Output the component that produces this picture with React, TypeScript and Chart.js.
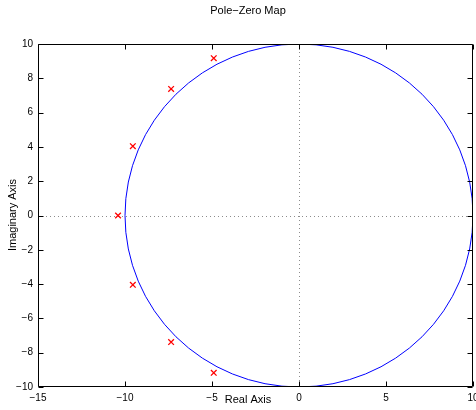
import React, { useEffect, useRef } from "react";
import { Chart, registerables } from "chart.js";

Chart.register(...registerables);

// Data
const poleRe = [-4.9, -7.35, -9.55, -10.4, -9.55, -7.35, -4.9];
const poleIm = [9.17, 7.38, 4.04, 0, -4.04, -7.38, -9.17];
const xTicks = [-15, -10, -5, 0, 5, 10];
const yTicks = [-10, -8, -6, -4, -2, 0, 2, 4, 6, 8, 10];
const circleRadius = 10;
const titleText = "Pole\u2212Zero Map";
const xTitle = "Real Axis";
const yTitle = "Imaginary Axis";

const FONT = '"Liberation Sans", Arial, Helvetica, sans-serif';
const fmt = (v: number) => String(v).replace("-", "\u2212");

const decor = {
  id: "decor",
  beforeDatasetsDraw(chart: any) {
    const { ctx, chartArea: a, scales } = chart;
    const x = scales.x, y = scales.y;
    ctx.save();
    ctx.beginPath();
    ctx.rect(a.left, a.top, a.right - a.left, a.bottom - a.top);
    ctx.clip();
    ctx.strokeStyle = "#8c8c8c";
    ctx.lineWidth = 1;
    ctx.setLineDash([1, 3]);
    const x0 = Math.round(x.getPixelForValue(0)) + 0.5;
    const y0 = Math.round(y.getPixelForValue(0)) + 0.5;
    ctx.beginPath();
    ctx.moveTo(x0, a.top);
    ctx.lineTo(x0, a.bottom);
    ctx.moveTo(a.left, y0);
    ctx.lineTo(a.right, y0);
    ctx.stroke();
    ctx.setLineDash([]);
    const cx = x.getPixelForValue(0);
    const cy = y.getPixelForValue(0);
    const rx = x.getPixelForValue(circleRadius) - cx;
    const ry = cy - y.getPixelForValue(circleRadius);
    ctx.strokeStyle = "#0000ff";
    ctx.lineWidth = 1;
    ctx.beginPath();
    ctx.ellipse(cx, cy, rx, ry, 0, 0, Math.PI * 2);
    ctx.stroke();
    ctx.restore();
  },
  afterDraw(chart: any) {
    const { ctx, chartArea: a, scales } = chart;
    const x = scales.x, y = scales.y;
    const L = a.left + 0.5, R = a.right - 0.5, T = a.top + 0.5, B = a.bottom - 0.5;
    ctx.save();
    ctx.strokeStyle = "#000";
    ctx.lineWidth = 1;
    ctx.beginPath();
    const tl = 5;
    xTicks.forEach((v) => {
      const px = Math.round(x.getPixelForValue(v)) + 0.5;
      ctx.moveTo(px, B);
      ctx.lineTo(px, B - tl);
      ctx.moveTo(px, T);
      ctx.lineTo(px, T + tl);
    });
    yTicks.forEach((v) => {
      const py = Math.round(y.getPixelForValue(v)) + 0.5;
      ctx.moveTo(L, py);
      ctx.lineTo(L + tl, py);
      ctx.moveTo(R, py);
      ctx.lineTo(R - tl, py);
    });
    ctx.stroke();
    ctx.beginPath();
    ctx.rect(L, T, R - L, B - T);
    ctx.stroke();
    ctx.fillStyle = "#000";
    ctx.font = "11px " + FONT;
    ctx.textAlign = "center";
    ctx.textBaseline = "middle";
    ctx.fillText(titleText, 248, 11);
    ctx.fillText(xTitle, 248, 400);
    ctx.translate(13, 215);
    ctx.rotate(-Math.PI / 2);
    ctx.fillText(yTitle, 0, 0);
    ctx.restore();
  },
};

const zeroPad = (s: any) => {
  s.paddingLeft = 0;
  s.paddingRight = 0;
  s.paddingTop = 0;
  s.paddingBottom = 0;
};

export default function App() {
  const ref = useRef<HTMLCanvasElement>(null);
  useEffect(() => {
    document.body.style.margin = "0";
    const chart = new Chart(ref.current!, {
      type: "scatter",
      data: {
        datasets: [
          {
            label: "Poles",
            data: poleRe.map((re, i) => ({ x: re, y: poleIm[i] })),
            pointStyle: "crossRot",
            pointRadius: 4,
            pointBorderWidth: 1.3,
            borderColor: "#ff0000",
            backgroundColor: "#ff0000",
          },
        ],
      },
      options: {
        responsive: false,
        animation: false,
        layout: { padding: { top: 44, left: 0, right: 3, bottom: 0 }, autoPadding: false },
        plugins: { legend: { display: false }, title: { display: false }, tooltip: { enabled: false } },
        scales: {
          x: {
            type: "linear",
            min: -15,
            max: 10,
            afterBuildTicks: (s: any) => { s.ticks = xTicks.map((v) => ({ value: v })); },
            afterFit: (s: any) => { s.height = 23; zeroPad(s); },
            grid: { display: false, drawTicks: false },
            border: { display: false },
            ticks: { color: "#000", font: { size: 10, family: FONT }, padding: 5, maxRotation: 0, callback: (v: any) => fmt(v) },
          },
          y: {
            type: "linear",
            min: -10,
            max: 10,
            afterBuildTicks: (s: any) => { s.ticks = yTicks.map((v) => ({ value: v })); },
            afterFit: (s: any) => { s.width = 38; zeroPad(s); },
            grid: { display: false, drawTicks: false },
            border: { display: false },
            ticks: { color: "#000", font: { size: 10, family: FONT }, padding: 5, callback: (v: any) => fmt(v) },
          },
        },
      },
      plugins: [decor],
    } as any);
    return () => chart.destroy();
  }, []);
  return (
    <div style={{ width: 476, height: 410 }}>
      <canvas ref={ref} width={476} height={410} />
    </div>
  );
}
